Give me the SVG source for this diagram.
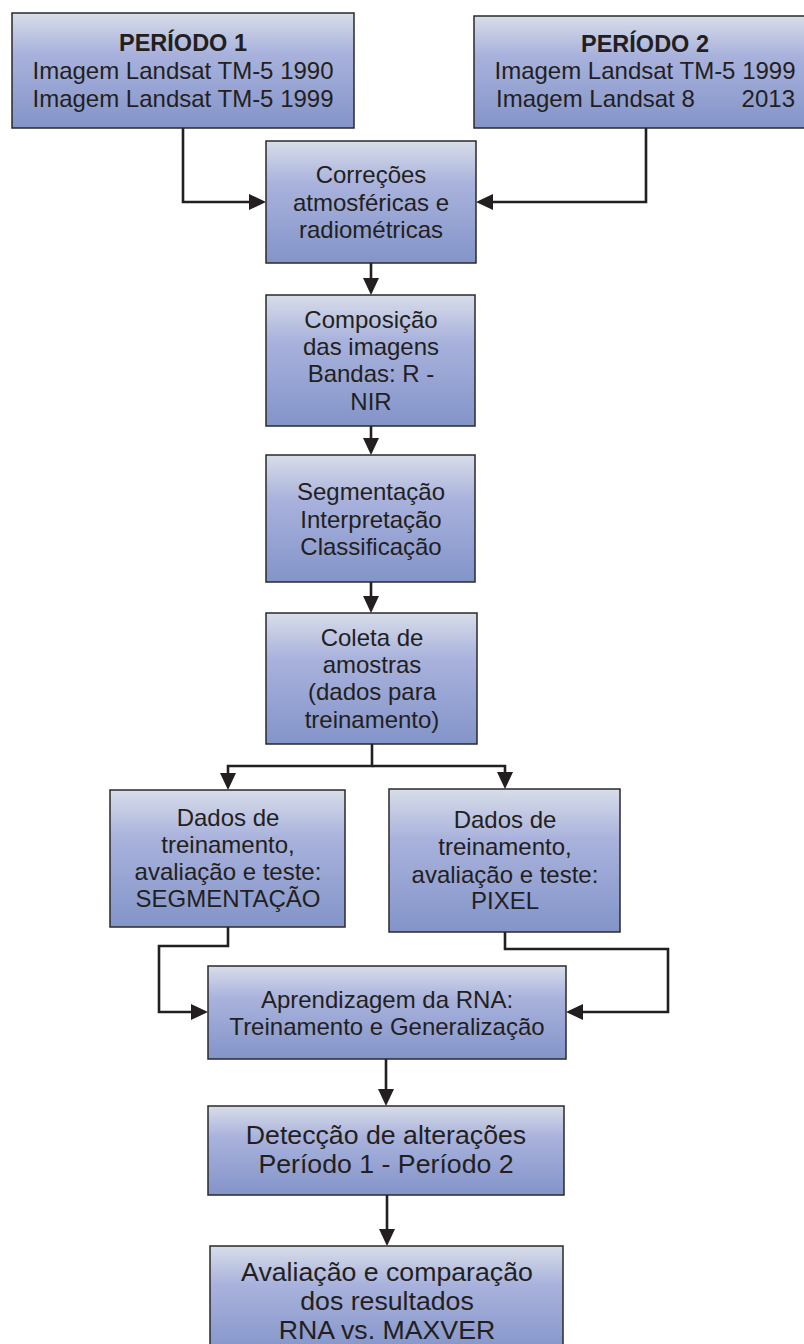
<svg xmlns="http://www.w3.org/2000/svg" width="804" height="1344" viewBox="0 0 804 1344">
  <style>
    .box { fill: url(#boxFill); stroke: #2a2a2a; stroke-width: 1.5; }
    .t { font-family: "Liberation Sans", Arial, sans-serif; font-size: 24px; fill: #231f20; text-anchor: middle; }
    .tb { font-weight: bold; font-size: 23.5px; }
    .big { font-size: 26.7px; }
    .edge { fill: none; stroke: #231f20; stroke-width: 2.6; stroke-linejoin: miter; }
  </style>
  <defs>
    <linearGradient id="boxFill" x1="0" y1="0" x2="0" y2="1">
      <stop offset="0" stop-color="#d8dde9"/>
      <stop offset="0.35" stop-color="#a9b2dc"/>
      <stop offset="1" stop-color="#8394c9"/>
    </linearGradient>
    <marker id="head" markerUnits="userSpaceOnUse" markerWidth="17" markerHeight="16" refX="1" refY="8" orient="auto">
      <path d="M0,0 L17,8 L0,16 z" fill="#231f20"/>
    </marker>
  </defs>

  <!-- connectors -->
  <g id="connectors">
    <path class="edge" d="M183 128 V202 H250" marker-end="url(#head)"/>
    <path class="edge" d="M646 128 V202 H492" marker-end="url(#head)"/>
    <path class="edge" d="M371 263 V279" marker-end="url(#head)"/>
    <path class="edge" d="M371 426 V439" marker-end="url(#head)"/>
    <path class="edge" d="M371 582 V597" marker-end="url(#head)"/>
    <path class="edge" d="M372 744 V766 H228 V774" marker-end="url(#head)"/>
    <path class="edge" d="M372 766 H505 V773"  marker-end="url(#head)"/>
    <path class="edge" d="M228 927 V946 H159 V1012 H192" marker-end="url(#head)"/>
    <path class="edge" d="M505 932 V949 H668 V1012 H582" marker-end="url(#head)"/>
    <path class="edge" d="M386 1059 V1090" marker-end="url(#head)"/>
    <path class="edge" d="M387 1195 V1230" marker-end="url(#head)"/>
  </g>

  <g id="periodo1">
    <rect class="box" x="12" y="13" width="342" height="115"/>
    <text class="t tb" x="183" y="51">PERÍODO 1</text>
    <text class="t" x="183" y="79">Imagem Landsat TM-5 1990</text>
    <text class="t" x="183" y="107">Imagem Landsat TM-5 1999</text>
  </g>

  <g id="periodo2">
    <rect class="box" x="474" y="16" width="334" height="112"/>
    <text class="t tb" x="645" y="52">PERÍODO 2</text>
    <text class="t" x="645" y="79">Imagem Landsat TM-5 1999</text>
    <text class="t" x="496" y="107" style="text-anchor:start">Imagem Landsat 8</text>
    <text class="t" x="795" y="107" style="text-anchor:end">2013</text>
  </g>

  <g id="correcoes">
    <rect class="box" x="266" y="141" width="210" height="122"/>
    <text class="t" x="371" y="183">Correções</text>
    <text class="t" x="371" y="211">atmosféricas e</text>
    <text class="t" x="371" y="238">radiométricas</text>
  </g>

  <g id="composicao">
    <rect class="box" x="266" y="295" width="209" height="131"/>
    <text class="t" x="371" y="328">Composição</text>
    <text class="t" x="371" y="355">das imagens</text>
    <text class="t" x="371" y="382">Bandas: R -</text>
    <text class="t" x="371" y="410">NIR</text>
  </g>

  <g id="segmentacao">
    <rect class="box" x="266" y="455" width="209" height="127"/>
    <text class="t" x="371" y="500">Segmentação</text>
    <text class="t" x="371" y="528">Interpretação</text>
    <text class="t" x="371" y="555">Classificação</text>
  </g>

  <g id="coleta">
    <rect class="box" x="266" y="613" width="211" height="131"/>
    <text class="t" x="372" y="646">Coleta de</text>
    <text class="t" x="372" y="673">amostras</text>
    <text class="t" x="372" y="700">(dados para</text>
    <text class="t" x="372" y="728">treinamento)</text>
  </g>

  <g id="dados-segmentacao">
    <rect class="box" x="110" y="790" width="235" height="137"/>
    <text class="t" x="228" y="826">Dados de</text>
    <text class="t" x="228" y="853">treinamento,</text>
    <text class="t" x="228" y="880">avaliação e teste:</text>
    <text class="t" x="228" y="907">SEGMENTAÇÃO</text>
  </g>

  <g id="dados-pixel">
    <rect class="box" x="389" y="789" width="231" height="143"/>
    <text class="t" x="505" y="828">Dados de</text>
    <text class="t" x="505" y="855">treinamento,</text>
    <text class="t" x="505" y="883">avaliação e teste:</text>
    <text class="t" x="505" y="909">PIXEL</text>
  </g>

  <g id="aprendizagem">
    <rect class="box" x="208" y="966" width="358" height="93"/>
    <text class="t" x="387" y="1008">Aprendizagem da RNA:</text>
    <text class="t" x="387" y="1035">Treinamento e Generalização</text>
  </g>

  <g id="deteccao">
    <rect class="box" x="208" y="1106" width="356" height="89"/>
    <text class="t big" x="386" y="1144">Detecção de alterações</text>
    <text class="t big" x="386" y="1173">Período 1 - Período 2</text>
  </g>

  <g id="avaliacao">
    <rect class="box" x="210" y="1246" width="353" height="110"/>
    <text class="t big" x="387" y="1281">Avaliação e comparação</text>
    <text class="t big" x="387" y="1310">dos resultados</text>
    <text class="t big" x="387" y="1339">RNA vs. MAXVER</text>
  </g>
</svg>
